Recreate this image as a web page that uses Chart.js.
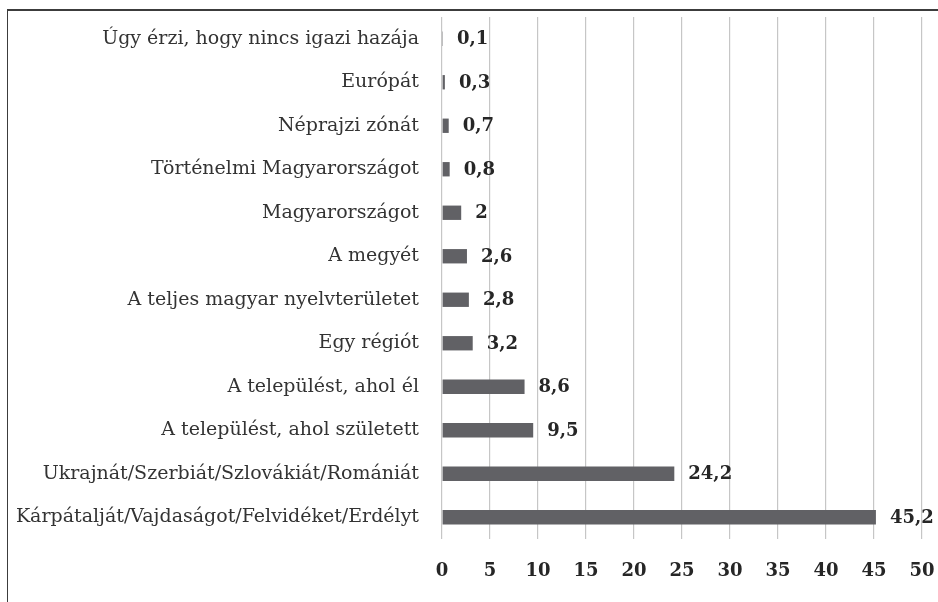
<!DOCTYPE html>
<html>
<head>
<meta charset="utf-8">
<script src="https://cdn.jsdelivr.net/npm/chart.js@4/dist/chart.umd.min.js"></script>
<style>
  html, body { margin: 0; padding: 0; background: #fff; }
  #wrap { position: relative; width: 938px; height: 602px; overflow: hidden; background: #fff; }
  #frame { position: absolute; left: 7px; top: 9px; width: 1000px; height: 700px;
           border-top: 2px solid #3c3c3c; border-left: 1.5px solid #3c3c3c; pointer-events: none; }
  canvas { position: absolute; left: 0; top: 0; }
</style>
</head>
<body>
<div id="wrap">
  <canvas id="c" width="938" height="602"></canvas>
  <div id="frame"></div>
</div>
<script>
const categories = [
  "Úgy érzi, hogy nincs igazi hazája",
  "Európát",
  "Néprajzi zónát",
  "Történelmi Magyarországot",
  "Magyarországot",
  "A megyét",
  "A teljes magyar nyelvterületet",
  "Egy régiót",
  "A települést, ahol él",
  "A települést, ahol született",
  "Ukrajnát/Szerbiát/Szlovákiát/Romániát",
  "Kárpátalját/Vajdaságot/Felvidéket/Erdélyt"
];
const values = [0.1, 0.3, 0.7, 0.8, 2, 2.6, 2.8, 3.2, 8.6, 9.5, 24.2, 45.2];
const xTicks = [0, 5, 10, 15, 20, 25, 30, 35, 40, 45, 50];

const SERIF = '"DejaVu Serif", "Liberation Serif", serif';
const fmt = v => String(v).replace('.', ',');

const valueLabels = {
  id: 'valueLabels',
  afterDatasetsDraw(chart) {
    const ctx = chart.ctx;
    const meta = chart.getDatasetMeta(0);
    ctx.save();
    ctx.font = 'bold 18px ' + SERIF;
    ctx.fillStyle = '#262626';
    ctx.textAlign = 'left';
    ctx.textBaseline = 'middle';
    meta.data.forEach((bar, i) => {
      ctx.fillText(fmt(values[i]), bar.x + 14, bar.y + 1);
    });
    ctx.restore();
  }
};

new Chart(document.getElementById('c'), {
  type: 'bar',
  data: {
    labels: categories,
    datasets: [{
      data: values,
      backgroundColor: '#616165',
      borderWidth: 0,
      barPercentage: 0.66,
      categoryPercentage: 0.5
    }]
  },
  options: {
    indexAxis: 'y',
    responsive: false,
    animation: false,
    devicePixelRatio: 1,
    layout: { padding: { left: 0, right: 16, top: 17, bottom: 0 } },
    plugins: { legend: { display: false }, tooltip: { enabled: false } },
    scales: {
      x: {
        min: 0, max: 50,
        afterBuildTicks(scale) { scale.ticks = xTicks.map(v => ({ value: v })); },
        afterFit(scale) { scale.height = 63; scale.paddingLeft = 0; scale.paddingRight = 0; },
        grid: { color: '#c6c6c6', lineWidth: 1.2, drawTicks: false },
        border: { display: false },
        ticks: {
          padding: 22,
          color: '#262626',
          font: { family: SERIF, size: 18, weight: 'bold' }
        }
      },
      y: {
        afterFit(scale) { scale.width = 442; scale.paddingTop = 0; scale.paddingBottom = 0; },
        grid: { display: false, drawTicks: false },
        border: { display: false },
        ticks: {
          padding: 23,
          color: '#333333',
          font: { family: SERIF, size: 19 }
        }
      }
    }
  },
  plugins: [valueLabels]
});
</script>
</body>
</html>
